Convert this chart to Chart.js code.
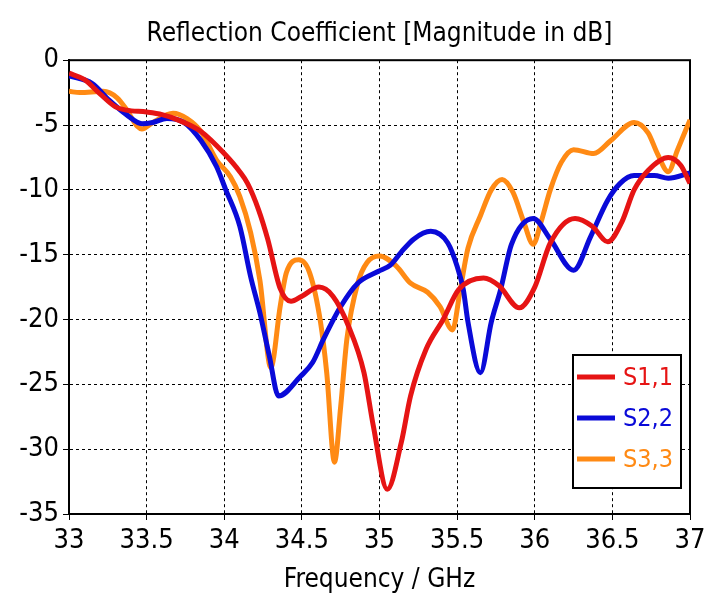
<!DOCTYPE html>
<html>
<head>
<meta charset="utf-8">
<script src="https://cdn.jsdelivr.net/npm/chart.js@4/dist/chart.umd.min.js"></script>
<style>
  body { margin: 0; background: #fff; }
  #chart { display: block; }
</style>
</head>
<body>
<canvas id="chart" width="720" height="600"></canvas>
<script>
var seriesNames = ['S1,1', 'S2,2', 'S3,3'];
var seriesColors = ['#e61414', '#0a0ad8', '#ff8a14'];

// frequency (GHz) / magnitude (dB)
var s11Freq = [33.00, 33.10, 33.20, 33.30, 33.37, 33.50, 33.60, 33.70, 33.85, 34.00,
               34.10, 34.15, 34.22, 34.28, 34.36, 34.43, 34.50, 34.61, 34.70, 34.80,
               34.90, 34.96, 35.05, 35.14, 35.20, 35.30, 35.41, 35.51, 35.67, 35.77,
               35.90, 36.00, 36.10, 36.26, 36.37, 36.47, 36.56, 36.64, 36.73, 36.86,
               36.94, 37.00];
var s11Db = [-1.0, -1.5, -2.6, -3.6, -3.85, -4.0, -4.2, -4.6, -5.5, -7.2,
             -8.6, -9.5, -11.5, -13.8, -17.6, -18.6, -18.2, -17.5, -18.2, -20.5,
             -24.1, -28.2, -33.1, -29.5, -25.9, -22.3, -20.0, -17.7, -16.8, -17.4,
             -19.1, -17.5, -14.1, -12.2, -12.8, -14.0, -12.5, -10.0, -8.5, -7.5,
             -8.1, -9.5];

var s22Freq = [33.00, 33.15, 33.26, 33.37, 33.47, 33.54, 33.63, 33.74, 33.85, 33.95,
               34.01, 34.10, 34.17, 34.23, 34.29, 34.35, 34.49, 34.57, 34.64, 34.75,
               34.86, 34.99, 35.07, 35.14, 35.22, 35.33, 35.44, 35.50, 35.54, 35.57,
               35.65, 35.72, 35.78, 35.85, 35.99, 36.10, 36.25, 36.36, 36.47, 36.55,
               36.64, 36.77, 36.86, 37.00];
var s22Db = [-1.2, -1.8, -3.1, -4.2, -4.9, -4.8, -4.5, -4.8, -6.2, -8.2,
             -10.0, -12.8, -16.7, -19.5, -22.8, -25.9, -24.4, -23.3, -21.5, -19.0,
             -17.2, -16.3, -15.8, -14.8, -13.8, -13.2, -14.1, -15.9, -17.7, -20.2,
             -24.1, -20.2, -17.7, -14.2, -12.2, -13.8, -16.2, -13.6, -10.8, -9.5,
             -8.9, -8.9, -9.1, -8.7];

var s33Freq = [33.00, 33.07, 33.22, 33.31, 33.37, 33.44, 33.47, 33.54, 33.67, 33.76,
               33.85, 33.95, 34.04, 34.10, 34.17, 34.23, 34.30, 34.36, 34.40, 34.48,
               34.55, 34.62, 34.66, 34.71, 34.75, 34.79, 34.86, 34.92, 35.00, 35.11,
               35.20, 35.31, 35.39, 35.47, 35.52, 35.57, 35.65, 35.72, 35.79, 35.86,
               35.93, 35.99, 36.04, 36.10, 36.17, 36.25, 36.38, 36.49, 36.64, 36.73,
               36.79, 36.86, 36.92, 37.00];
var s33Db = [-2.4, -2.5, -2.4, -2.9, -3.8, -5.1, -5.3, -4.8, -4.1, -4.5,
             -5.5, -7.7, -9.0, -10.5, -13.3, -17.0, -23.7, -19.0, -16.4, -15.4,
             -16.4, -20.2, -24.1, -31.0, -26.7, -21.5, -17.2, -15.6, -15.1, -15.9,
             -17.2, -17.9, -19.0, -20.8, -17.7, -14.5, -12.0, -10.0, -9.2, -10.2,
             -12.5, -14.2, -12.5, -10.0, -7.9, -6.9, -7.2, -6.2, -4.8, -5.6,
             -7.2, -8.6, -6.9, -4.6];

var xTicks = [33, 33.5, 34, 34.5, 35, 35.5, 36, 36.5, 37];
var yTicks = [0, -5, -10, -15, -20, -25, -30, -35];

var fontFamily = "'DejaVu Sans Condensed', 'DejaVu Sans', sans-serif";

function toPoints(fs, vs) {
    var pts = [];
    for (let i = 0; i < fs.length; i++) {
        pts.push({ x: fs[i], y: vs[i] });
    }
    return pts;
}

var allFreq = [s11Freq, s22Freq, s33Freq];
var allDb = [s11Db, s22Db, s33Db];

var datasets = seriesNames.map((name, i) => ({
    label: name,
    data: toPoints(allFreq[i], allDb[i]),
    borderColor: seriesColors[i],
    backgroundColor: seriesColors[i],
    borderWidth: 5,
    pointRadius: 0,
    cubicInterpolationMode: 'monotone',
    fill: false
}));

// solid frame round the plot + legend box inside the plot
var framePlugin = {
    id: 'frame',
    beforeDatasetsDraw(chart) {
        var a = chart.chartArea, ctx = chart.ctx;
        ctx.save();
        ctx.strokeStyle = '#000';
        ctx.lineWidth = 2;
        ctx.strokeRect(a.left, a.top, a.right - a.left, a.bottom - a.top);
        ctx.restore();
    },
    afterDraw(chart) {
        var a = chart.chartArea, ctx = chart.ctx;
        var w = 108, h = 133;
        var x0 = a.right - 117, y0 = a.bottom - 159;
        ctx.save();
        ctx.fillStyle = '#fff';
        ctx.fillRect(x0, y0, w, h);
        ctx.strokeStyle = '#000';
        ctx.lineWidth = 2;
        ctx.strokeRect(x0, y0, w, h);
        ctx.font = '25px ' + fontFamily;
        ctx.textBaseline = 'middle';
        chart.data.datasets.forEach((ds, i) => {
            var y = y0 + 22 + i * 41;
            ctx.strokeStyle = ds.borderColor;
            ctx.lineWidth = 5;
            ctx.beginPath();
            ctx.moveTo(x0 + 4, y);
            ctx.lineTo(x0 + 42, y);
            ctx.stroke();
            ctx.fillStyle = ds.borderColor;
            ctx.fillText(ds.label, x0 + 50, y + 1);
        });
        ctx.restore();
    }
};

new Chart(document.getElementById('chart'), {
    type: 'line',
    data: { datasets: datasets },
    options: {
        responsive: false,
        animation: false,
        devicePixelRatio: 1,
        layout: { padding: { left: 0, right: 30, top: 0, bottom: 0 } },
        plugins: {
            legend: { display: false },
            tooltip: { enabled: false },
            title: {
                display: true,
                text: 'Reflection Coefficient [Magnitude in dB]',
                color: '#000',
                fullSize: false,
                font: { family: fontFamily, size: 26, weight: 'normal' },
                padding: { top: 19, bottom: 10 }
            }
        },
        scales: {
            x: {
                type: 'linear',
                min: 33,
                max: 37,
                afterBuildTicks(scale) {
                    scale.ticks = xTicks.map(v => ({ value: v }));
                },
                afterFit(scale) { scale.height = 86; },
                ticks: {
                    color: '#000',
                    font: { family: fontFamily, size: 27 },
                    padding: 5,
                    maxRotation: 0,
                    autoSkip: false,
                    callback: v => String(v)
                },
                grid: { color: '#000', lineWidth: 1, tickLength: 6 },
                border: { display: true, color: '#000', width: 2, dash: [3, 3] },
                title: {
                    display: true,
                    text: 'Frequency / GHz',
                    color: '#000',
                    font: { family: fontFamily, size: 26 },
                    padding: { top: 2, bottom: 4 }
                }
            },
            y: {
                type: 'linear',
                min: -35,
                max: 0,
                afterBuildTicks(scale) {
                    scale.ticks = yTicks.map(v => ({ value: v }));
                },
                afterFit(scale) { scale.width = 69; },
                ticks: {
                    color: '#000',
                    font: { family: fontFamily, size: 27 },
                    padding: 4,
                    autoSkip: false,
                    callback: v => String(v)
                },
                grid: { color: '#000', lineWidth: 1, tickLength: 6 },
                border: { display: true, color: '#000', width: 2, dash: [3, 3] }
            }
        }
    },
    plugins: [framePlugin]
});
</script>
</body>
</html>
